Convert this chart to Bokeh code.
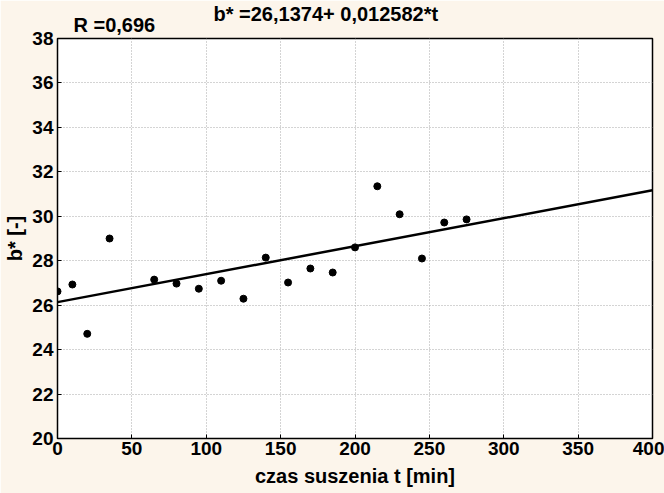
from bokeh.plotting import figure
from bokeh.models import Range1d, FixedTicker, ColumnDataSource, Title
from bokeh.embed import file_html
from bokeh.resources import INLINE

# Data
t_min = [0, 10, 20, 35, 65, 80, 95, 110, 125, 140, 155, 170, 185, 200, 215, 230, 245, 260, 275]
b_star = [26.62, 26.93, 24.71, 29.0, 27.15, 26.97, 26.74, 27.1, 26.29, 28.14, 27.02, 27.65, 27.47,
          28.6, 31.35, 30.09, 28.1, 29.72, 29.86]
intercept = 26.1374
slope = 0.012582
fit_t = [0, 400]
fit_b = [intercept + slope * t for t in fit_t]
x_ticks = [0, 50, 100, 150, 200, 250, 300, 350, 400]
y_ticks = [20, 22, 24, 26, 28, 30, 32, 34, 36, 38]

FONT = "Liberation Sans"
BG = "#fcf5eb"

p = figure(width=664, height=493, output_backend="svg", toolbar_location=None,
           x_range=Range1d(0, 400), y_range=Range1d(20, 38),
           min_border_left=57, min_border_right=12, min_border_top=38, min_border_bottom=55,
           background_fill_color="white", border_fill_color=BG)
p.outline_line_color = "black"
p.outline_line_width = 1.5

p.add_layout(Title(text="R =0,696", align="left", offset=16,
                   text_font=FONT, text_font_size="20px", text_font_style="bold",
                   text_color="black", standoff=5), "above")
p.title = Title(text="b* =26,1374+ 0,012582*t", align="left", offset=156,
                text_font=FONT, text_font_size="20px", text_font_style="bold",
                text_color="black", standoff=-31,
                padding=dict(left=0, right=0, top=14, bottom=0))

p.xaxis.ticker = FixedTicker(ticks=x_ticks)
p.yaxis.ticker = FixedTicker(ticks=y_ticks)
p.xaxis.axis_label = "czas suszenia t [min]"
p.yaxis.axis_label = "b* [-]"

for ax in list(p.xaxis) + list(p.yaxis):
    ax.major_tick_in = 4
    ax.major_tick_out = 0
    ax.minor_tick_in = 0
    ax.minor_tick_out = 0
    ax.axis_line_color = "black"
    ax.major_label_text_font = FONT
    ax.major_label_text_font_size = "19px"
    ax.major_label_text_font_style = "bold"
    ax.major_label_text_color = "black"
    ax.axis_label_text_font = FONT
    ax.axis_label_text_font_size = "20px"
    ax.axis_label_text_font_style = "bold"
    ax.axis_label_text_color = "black"
p.xaxis.major_label_standoff = 3
p.yaxis.major_label_standoff = 4
p.xaxis.axis_label_standoff = 7
p.yaxis.axis_label_standoff = 3

p.xgrid.ticker = FixedTicker(ticks=x_ticks)
p.ygrid.ticker = FixedTicker(ticks=y_ticks)
p.grid.grid_line_color = "#a8a8a8"
p.grid.grid_line_dash = "1 2"
p.grid.grid_line_width = 1

p.line(fit_t, fit_b, line_color="black", line_width=2.5)
src = ColumnDataSource(dict(t=t_min, b=b_star))
p.scatter("t", "b", source=src, size=7, color="black")

open("out.html", "w").write(file_html(p, INLINE))
